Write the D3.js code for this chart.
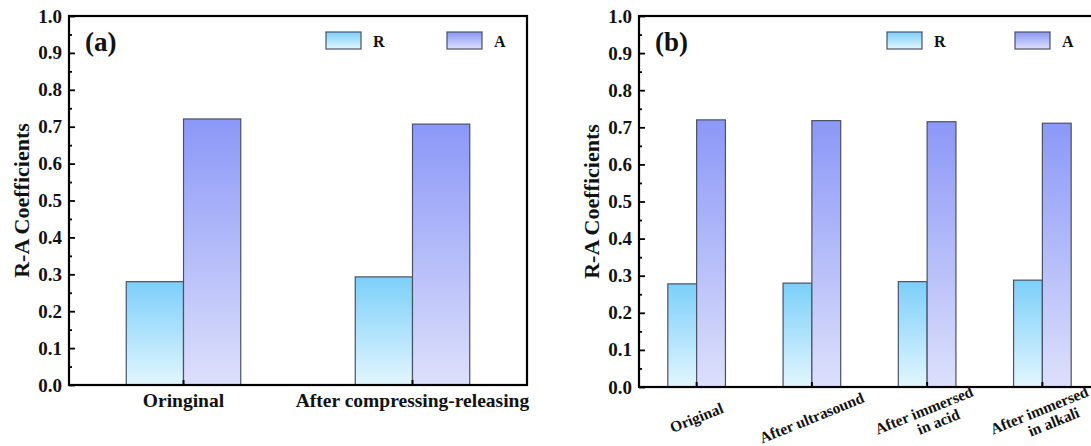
<!DOCTYPE html>
<html>
<head>
<meta charset="utf-8">
<script src="https://cdn.jsdelivr.net/npm/d3@7"></script>
<style>
  body { margin: 0; background: #fff; }
  svg { display: block; }
  text { font-family: "Times New Roman", "Liberation Serif", serif; font-weight: bold; fill: #111; }
</style>
</head>
<body>
<svg width="1091" height="446"></svg>
<script>
// panel (a)
var catsA = ["Oringinal", "After compressing-releasing"];
var rA = [0.280, 0.293];
var aA = [0.721, 0.707];

// panel (b)
var catsB = ["Original", "After ultrasound", "After immersed\nin acid", "After immersed\nin alkali"];
var rB = [0.278, 0.280, 0.284, 0.288];
var aB = [0.720, 0.718, 0.715, 0.711];

var series = ["R", "A"];
var yTicks = [0, 0.1, 0.2, 0.3, 0.4, 0.5, 0.6, 0.7, 0.8, 0.9, 1.0];
var yMinor = [0.05, 0.15, 0.25, 0.35, 0.45, 0.55, 0.65, 0.75, 0.85, 0.95];

var svg = d3.select("svg");

var defs = svg.append("defs");
function grad(id, c1, c2) {
    var g = defs.append("linearGradient").attr("id", id)
        .attr("x1", 0).attr("y1", 0).attr("x2", 0).attr("y2", 1);
    g.append("stop").attr("offset", "0%").attr("stop-color", c1);
    g.append("stop").attr("offset", "100%").attr("stop-color", c2);
}
grad("gradR", "#7ccffa", "#e2f6fe");
grad("gradA", "#8b98f7", "#dde0fb");
var fills = { R: "url(#gradR)", A: "url(#gradA)" };

function panel(opt) {
    var g = svg.append("g");
    var y = d3.scaleLinear().domain([0, 1]).range([opt.bottom, opt.top]);
    var x0 = d3.scaleBand().domain(opt.cats).range([opt.left, opt.right]);
    var x1 = d3.scaleBand().domain(series).range([0, x0.bandwidth() / 2]);

    var rows = opt.cats.map(function (c, i) {
        return { cat: c, R: opt.r[i], A: opt.a[i] };
    });

    // bars
    g.selectAll("g.grp")
        .data(rows)
        .enter()
        .append("g")
        .attr("transform", function (d) {
            return "translate(" + (x0(d.cat) + x0.bandwidth() / 4) + ",0)";
        })
        .selectAll("rect")
        .data(function (d) { return series.map(function (s) { return { s: s, v: d[s] }; }); })
        .enter()
        .append("rect")
        .attr("x", function (d) { return x1(d.s); })
        .attr("y", function (d) { return y(d.v); })
        .attr("width", x1.bandwidth())
        .attr("height", function (d) { return y(0) - y(d.v); })
        .attr("fill", function (d) { return fills[d.s]; })
        .attr("stroke", "#4b5263")
        .attr("stroke-width", 1.2);

    // frame
    g.append("rect")
        .attr("x", opt.left).attr("y", opt.top)
        .attr("width", opt.right - opt.left).attr("height", opt.bottom - opt.top)
        .attr("fill", "none").attr("stroke", "#000").attr("stroke-width", 2.2);

    // y axis
    var ya = g.append("g")
        .attr("transform", "translate(" + opt.left + ",0)")
        .call(d3.axisLeft(y).tickValues(yTicks).tickSize(-6).tickPadding(7)
            .tickFormat(d3.format(".1f")));
    ya.select(".domain").remove();
    ya.selectAll("line").attr("stroke", "#000").attr("stroke-width", 1.8);
    ya.selectAll("text").style("font-size", "19px").attr("fill", "#111")
        .style("font-family", "'Times New Roman', 'Liberation Serif', serif").style("font-weight", "bold");

    var ym = g.append("g")
        .attr("transform", "translate(" + opt.left + ",0)")
        .call(d3.axisLeft(y).tickValues(yMinor).tickSize(-3).tickFormat(""));
    ym.select(".domain").remove();
    ym.selectAll("line").attr("stroke", "#000").attr("stroke-width", 1.8);

    // x axis ticks at category centres
    var xa = g.append("g")
        .attr("transform", "translate(0," + opt.bottom + ")")
        .call(d3.axisBottom(x0).tickSize(-5).tickFormat(""));
    xa.select(".domain").remove();
    xa.selectAll("line").attr("stroke", "#000").attr("stroke-width", 2);

    // y title
    g.append("text")
        .attr("transform", "translate(" + (opt.left - 48) + "," + ((opt.top + opt.bottom) / 2) + ") rotate(-90)")
        .attr("text-anchor", "middle")
        .attr("dy", "0.35em")
        .style("font-size", "22px")
        .text("R-A Coefficients");

    // panel letter
    g.append("text")
        .attr("x", opt.left + 16).attr("y", opt.top + 35)
        .style("font-size", "27px")
        .text(opt.letter);

    // legend
    series.forEach(function (s, i) {
        var lx = opt.legend[i];
        g.append("rect")
            .attr("x", lx).attr("y", opt.top + 16)
            .attr("width", 35).attr("height", 17)
            .attr("fill", fills[s]).attr("stroke", "#4b5263").attr("stroke-width", 1.2);
        g.append("text")
            .attr("x", lx + 47).attr("y", opt.top + 31)
            .style("font-size", "16px")
            .text(s);
    });

    // x labels
    if (!opt.rotate) {
        g.selectAll("text.xl")
            .data(opt.cats)
            .enter()
            .append("text")
            .attr("class", "xl")
            .attr("x", function (d) { return x0(d) + x0.bandwidth() / 2; })
            .attr("y", opt.bottom + 22)
            .attr("text-anchor", "middle")
            .style("font-size", "19.5px")
            .text(function (d) { return d; });
    } else {
        var lab = g.selectAll("text.xl")
            .data(opt.cats)
            .enter()
            .append("text")
            .attr("class", "xl")
            .attr("transform", function (d) {
                return "translate(" + (x0(d) + x0.bandwidth() / 2) + "," + (opt.bottom + 31) + ") rotate(-22)";
            })
            .attr("text-anchor", "middle")
            .style("font-size", "15.5px");
        lab.each(function (d) {
            var lines = d.split("\n");
            var t = d3.select(this);
            lines.forEach(function (ln, k) {
                t.append("tspan")
                    .attr("x", lines.length > 1 && k == 1 ? 9 : 0)
                    .attr("y", lines.length > 1 ? (k == 0 ? -3 : 13) : 5)
                    .text(ln);
            });
        });
    }
}

panel({ cats: catsA, r: rA, a: aA, left: 69, right: 527, top: 16, bottom: 385,
        letter: "(a)", legend: [326, 447], rotate: false });
panel({ cats: catsB, r: rB, a: aB, left: 639, right: 1100, top: 16, bottom: 387,
        letter: "(b)", legend: [887, 1015], rotate: true });
</script>
</body>
</html>
